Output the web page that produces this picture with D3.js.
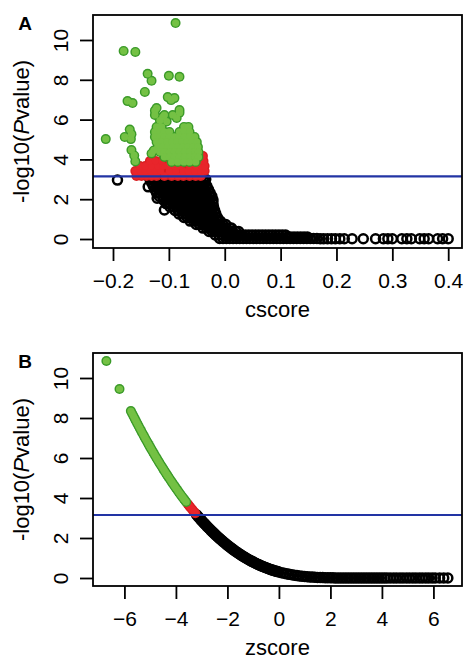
<!DOCTYPE html>
<html><head><meta charset="utf-8">
<script src="https://cdn.jsdelivr.net/npm/d3@7"></script>
<style>body{margin:0;background:#fff}</style>
</head><body><svg id="c" width="464" height="660"></svg>
<script>
// ---------- shared ----------
const yTicks = [0, 2, 4, 6, 8, 10];
const cscoreTicks = [-0.2, -0.1, 0, 0.1, 0.2, 0.3, 0.4];
const zscoreTicks = [-6, -4, -2, 0, 2, 4, 6];
const threshold = 3.15;

// ---------- panel A (cscore, -log10 P) ----------
// black (non-significant) points, listed as rows: [ -log10P, [cscore values] ]
const aBlackRows = [
 [3.00, [-0.134,-0.128,-0.122,-0.116,-0.110,-0.104,-0.098,-0.092,-0.086,-0.080,-0.074,-0.068,-0.062,-0.056,-0.050,-0.044,-0.038,-0.034]],
 [2.84, [-0.131,-0.125,-0.119,-0.113,-0.107,-0.101,-0.095,-0.089,-0.083,-0.077,-0.071,-0.065,-0.059,-0.053,-0.047,-0.041,-0.035]],
 [2.66, [-0.128,-0.122,-0.116,-0.110,-0.104,-0.098,-0.092,-0.086,-0.080,-0.074,-0.068,-0.062,-0.056,-0.050,-0.044,-0.038,-0.032]],
 [2.49, [-0.125,-0.119,-0.113,-0.107,-0.101,-0.095,-0.089,-0.083,-0.077,-0.071,-0.065,-0.059,-0.053,-0.047,-0.041,-0.035,-0.029]],
 [2.31, [-0.122,-0.116,-0.110,-0.104,-0.098,-0.092,-0.086,-0.080,-0.074,-0.068,-0.062,-0.056,-0.050,-0.044,-0.038,-0.032,-0.026]],
 [2.14, [-0.117,-0.111,-0.105,-0.099,-0.093,-0.087,-0.081,-0.075,-0.069,-0.063,-0.057,-0.051,-0.045,-0.039,-0.033,-0.027,-0.023]],
 [1.96, [-0.110,-0.104,-0.098,-0.092,-0.086,-0.080,-0.074,-0.068,-0.062,-0.056,-0.050,-0.044,-0.038,-0.032,-0.026,-0.021]],
 [1.78, [-0.105,-0.099,-0.093,-0.087,-0.081,-0.075,-0.069,-0.063,-0.057,-0.051,-0.045,-0.039,-0.033,-0.027,-0.021]],
 [1.61, [-0.098,-0.092,-0.086,-0.080,-0.074,-0.068,-0.062,-0.056,-0.050,-0.044,-0.038,-0.032,-0.026,-0.020]],
 [1.43, [-0.089,-0.083,-0.077,-0.071,-0.065,-0.059,-0.053,-0.047,-0.041,-0.035,-0.029,-0.023,-0.018]],
 [1.26, [-0.082,-0.076,-0.070,-0.064,-0.058,-0.052,-0.046,-0.040,-0.034,-0.028,-0.022,-0.016]],
 [1.08, [-0.073,-0.067,-0.061,-0.055,-0.049,-0.043,-0.037,-0.031,-0.025,-0.019,-0.013]],
 [0.90, [-0.062,-0.056,-0.050,-0.044,-0.038,-0.032,-0.026,-0.020,-0.014,-0.008]],
 [0.73, [-0.051,-0.045,-0.039,-0.033,-0.027,-0.021,-0.015,-0.009,-0.003,0.002]],
 [0.55, [-0.039,-0.033,-0.027,-0.021,-0.015,-0.009,-0.003,0.003,0.009,0.012]],
 [0.38, [-0.028,-0.022,-0.016,-0.010,-0.004,0.002,0.008,0.014,0.020,0.025]],
 [0.20, [-0.017,-0.011,-0.005,0.001,0.007,0.013,0.019,0.025,0.031,0.037,0.043,0.049,0.055,0.061,0.067,0.073,0.079,0.085,0.091,0.097,0.103,0.109]],
 [0.10, [0.112,0.118,0.124,0.130,0.136,0.142,0.148]],
 [0.03, [-0.009,-0.003,0.003,0.009,0.015,0.021,0.027,0.033,0.039,0.045,0.051,0.057,0.063,0.069,0.075,0.081,0.087,0.093,0.099,0.105,0.111,0.117,0.123,0.129,0.135,0.141,0.147,0.153,0.159,0.165]],
 [0.01, [0.171,0.177,0.184,0.191,0.198,0.206,0.214,0.228,0.248,0.270,0.284,0.292,0.300,0.317,0.326,0.334,0.349,0.357,0.365,0.381,0.390,0.400]]
];
const aBlackSingles = [[-0.192, 2.96], [-0.108, 1.46], [-0.137, 2.62], [-0.121, 2.05]];
// red points (significant, below cut-off): rows [ -log10P, [cscore] ]
const aRedRows = [
 [3.17, [-0.158,-0.149,-0.140,-0.131,-0.122,-0.108,-0.095,-0.084,-0.074,-0.063,-0.052,-0.043]],
 [3.42, [-0.160,-0.151,-0.142,-0.133,-0.124,-0.115,-0.099,-0.088,-0.075,-0.065,-0.054,-0.043,-0.036]],
 [3.67, [-0.152,-0.142,-0.131,-0.120,-0.111,-0.102,-0.090,-0.080,-0.063,-0.052,-0.041,-0.036]],
 [3.92, [-0.134,-0.124,-0.113,-0.056,-0.045,-0.038]],
 [4.17, [-0.059,-0.048,-0.039]]
];
// green points (most significant)
const aGreenSingles = [
 [-0.088,10.85],[-0.181,9.45],[-0.160,9.40],[-0.138,8.30],[-0.131,7.95],[-0.143,7.39],
 [-0.100,8.20],[-0.081,8.15],[-0.174,6.93],[-0.165,6.83],[-0.102,7.13],[-0.090,7.08],[-0.096,6.98],
 [-0.081,6.48],[-0.122,6.58],[-0.125,6.23],[-0.111,6.13],[-0.086,6.08],[-0.125,6.45],[-0.108,6.23],
 [-0.093,6.23],[-0.081,6.35],[-0.116,5.95],[-0.104,5.90],[-0.213,5.02],[-0.179,5.13],[-0.168,5.02],
 [-0.167,5.27],[-0.170,5.50],[-0.167,4.47],[-0.162,4.20],[-0.160,3.90],[-0.131,4.30],[-0.127,4.45]
];
const aGreenRows = [
 [5.63, [-0.122,-0.113,-0.073,-0.065]],
 [5.38, [-0.125,-0.116,-0.108,-0.099,-0.081,-0.072,-0.063]],
 [5.13, [-0.125,-0.116,-0.108,-0.099,-0.090,-0.081,-0.072,-0.063,-0.054]],
 [4.87, [-0.122,-0.113,-0.104,-0.095,-0.086,-0.077,-0.068,-0.059,-0.050]],
 [4.62, [-0.120,-0.111,-0.102,-0.093,-0.084,-0.075,-0.066,-0.057,-0.048]],
 [4.37, [-0.116,-0.108,-0.099,-0.090,-0.081,-0.072,-0.063,-0.054,-0.047]],
 [4.12, [-0.108,-0.099,-0.090,-0.081,-0.072,-0.063,-0.054,-0.047]],
 [3.87, [-0.095,-0.084,-0.073,-0.063,-0.052]]
];

// ---------- panel B (zscore, -log10 P) ----------
const bGreen = [
 [-6.70,10.85],[-6.19,9.45],
 [-5.75,8.351],[-5.70,8.223],[-5.65,8.096],[-5.60,7.970],[-5.55,7.846],[-5.50,7.722],[-5.45,7.599],
 [-5.40,7.477],[-5.35,7.357],[-5.30,7.237],[-5.25,7.120],[-5.20,7.002],[-5.15,6.886],[-5.10,6.770],
 [-5.05,6.656],[-5.00,6.543],[-4.95,6.431],[-4.90,6.320],[-4.85,6.210],[-4.80,6.101],[-4.75,5.993],
 [-4.70,5.886],[-4.65,5.781],[-4.60,5.675],[-4.55,5.572],[-4.50,5.469],[-4.45,5.368],[-4.40,5.267],
 [-4.35,5.168],[-4.30,5.069],[-4.25,4.972],[-4.20,4.875],[-4.15,4.780],[-4.10,4.685],[-4.05,4.592],
 [-4.00,4.499],[-3.95,4.409],[-3.90,4.318],[-3.85,4.229],[-3.80,4.141],[-3.75,4.054],[-3.70,3.967],
 [-3.65,3.883],[-3.60,3.798]
];
const bRed = [[-3.55,3.716],[-3.50,3.633],[-3.45,3.552],[-3.40,3.473],[-3.35,3.394],[-3.30,3.316],[-3.25,3.239]];
const bBlack = [
 [-3.20,3.163],[-3.15,3.088],[-3.10,3.014],[-3.05,2.942],[-3.00,2.870],[-2.95,2.799],[-2.90,2.729],
 [-2.85,2.661],[-2.80,2.593],[-2.75,2.526],[-2.70,2.460],[-2.65,2.395],[-2.60,2.332],[-2.55,2.269],
 [-2.50,2.207],[-2.45,2.146],[-2.40,2.086],[-2.35,2.027],[-2.30,1.970],[-2.25,1.913],[-2.20,1.857],
 [-2.15,1.802],[-2.10,1.748],[-2.05,1.695],[-2.00,1.643],[-1.95,1.592],[-1.90,1.542],[-1.85,1.493],
 [-1.80,1.445],[-1.75,1.397],[-1.70,1.351],[-1.65,1.306],[-1.60,1.261],[-1.55,1.218],[-1.50,1.175],
 [-1.45,1.134],[-1.40,1.093],[-1.35,1.053],[-1.30,1.014],[-1.25,0.976],[-1.20,0.939],[-1.15,0.903],
 [-1.10,0.867],[-1.05,0.833],[-1.00,0.799],[-0.95,0.767],[-0.90,0.735],[-0.85,0.704],[-0.80,0.674],
 [-0.75,0.645],[-0.70,0.616],[-0.65,0.589],[-0.60,0.562],[-0.55,0.536],[-0.50,0.511],[-0.45,0.487],
 [-0.40,0.463],[-0.35,0.440],[-0.30,0.418],[-0.25,0.397],[-0.20,0.376],[-0.15,0.356],[-0.10,0.337],
 [-0.05,0.319],[0.00,0.301],[0.1,0.268],[0.2,0.237],[0.3,0.209],[0.4,0.184],[0.5,0.160],[0.6,0.139],
 [0.7,0.120],[0.8,0.103],[0.9,0.088],[1.0,0.075],[1.1,0.063],[1.2,0.053],[1.3,0.044],[1.4,0.037],
 [1.5,0.030],[1.6,0.024],[1.7,0.020],[1.8,0.016],[1.9,0.013],[2.0,0.010],[2.1,0.008],[2.2,0.006],
 [2.3,0.005],[2.4,0.004],[2.5,0.003],[2.6,0.002],[2.7,0.002],[2.8,0.001],[2.9,0.001],[3.0,0.001],
 [3.1,0.001],[3.2,0.001],[3.3,0],[3.4,0],[3.5,0],[3.6,0],[3.7,0],[3.8,0],[3.9,0],[4.0,0],[4.1,0],[4.2,0],
 [4.32,0],[4.45,0],[4.57,0],[4.70,0],[4.82,0],[4.95,0],[5.07,0],[5.20,0],[5.32,0],[5.45,0],[5.57,0],
 [5.70,0],[5.82,0],[5.95,0],[6.07,0],[6.24,0],[6.40,0],[6.56,0]
];

// ---------- drawing ----------
const rows = r => r.flatMap(([yv, xs]) => xs.map(xv => [xv, yv]));
const svg = d3.select("#c");
const FONT = "'Liberation Sans', Arial, Helvetica, sans-serif";
const L = 93, R = 462, RAD = 4.4;

function panel(o) {
  const g = svg.append("g");
  const x = d3.scaleLinear().domain(o.xDomain).range([L, R]);
  const y = d3.scaleLinear().domain(o.yDomain).range([o.bottom, o.top]);

  // open black circles
  g.append("g").selectAll("circle").data(o.black).join("circle")
    .attr("cx", d => x(d[0])).attr("cy", d => y(d[1])).attr("r", 4.5)
    .attr("fill", "none").attr("stroke", "#000").attr("stroke-width", 2.5);
  // filled coloured circles: outline layer under fill layer
  const filled = (data, fill, edge) => {
    const h = g.append("g");
    h.append("g").selectAll("circle").data(data).join("circle")
      .attr("cx", d => x(d[0])).attr("cy", d => y(d[1])).attr("r", RAD + 0.6).attr("fill", edge);
    h.append("g").selectAll("circle").data(data).join("circle")
      .attr("cx", d => x(d[0])).attr("cy", d => y(d[1])).attr("r", RAD - 0.8).attr("fill", fill);
  };
  filled(o.red, "#e8252b", "#d81d20");
  filled(o.green, "#74c144", "#3a9a28");

  g.append("line").attr("x1", L).attr("x2", R)
    .attr("y1", y(threshold)).attr("y2", y(threshold))
    .attr("stroke", "#2234a4").attr("stroke-width", 2.2);

  g.append("rect").attr("x", L).attr("y", o.top).attr("width", R - L).attr("height", o.bottom - o.top)
    .attr("fill", "none").attr("stroke", "#000").attr("stroke-width", 1.8);

  const ax = g.append("g").attr("transform", `translate(0,${o.bottom})`)
    .call(d3.axisBottom(x).tickValues(o.xTicks).tickSize(13).tickFormat(o.fmt));
  ax.select(".domain").remove();
  ax.selectAll("line").attr("stroke", "#000").attr("stroke-width", 1.8);
  ax.selectAll("text").attr("y", 40).attr("dy", null)
    .attr("font-family", FONT).attr("font-size", 21).attr("fill", "#000");

  const ay = g.append("g").attr("transform", `translate(${L},0)`)
    .call(d3.axisLeft(y).tickValues(yTicks).tickSize(13).tickFormat(d3.format("d")));
  ay.select(".domain").remove();
  ay.selectAll("line").attr("stroke", "#000").attr("stroke-width", 1.8);
  ay.selectAll("text").attr("x", 0).attr("y", 0).attr("dy", null)
    .attr("text-anchor", "middle").attr("transform", "translate(-25,0) rotate(-90)")
    .attr("font-family", FONT).attr("font-size", 21).attr("fill", "#000");

  const mid = (o.top + o.bottom) / 2;
  const t = g.append("text").attr("transform", `translate(29,${mid}) rotate(-90)`)
    .attr("text-anchor", "middle").attr("font-family", FONT).attr("font-size", 22);
  t.append("tspan").text("-log10(");
  t.append("tspan").attr("font-style", "italic").text("P");
  t.append("tspan").text("value)");

  g.append("text").attr("x", (L + R) / 2).attr("y", o.bottom + 69).attr("text-anchor", "middle")
    .attr("font-family", FONT).attr("font-size", 22).text(o.xTitle);

  g.append("text").attr("x", 25).attr("y", o.top + 15).attr("text-anchor", "middle")
    .attr("font-family", FONT).attr("font-size", 19).attr("font-weight", "bold").text(o.letter);
}

panel({
  letter: "A", xTitle: "cscore", top: 15, bottom: 248,
  xDomain: [-0.2358, 0.4247], yDomain: [-0.452, 11.256],
  xTicks: cscoreTicks, fmt: d3.format(".1f"),
  black: rows(aBlackRows).concat(aBlackSingles),
  red: rows(aRedRows),
  green: rows(aGreenRows).concat(aGreenSingles)
});
panel({
  letter: "B", xTitle: "zscore", top: 353, bottom: 586,
  xDomain: [-7.22, 7.11], yDomain: [-0.4, 11.25],
  xTicks: zscoreTicks, fmt: d3.format("d"),
  black: bBlack, red: bRed, green: bGreen
});
</script></body></html>
